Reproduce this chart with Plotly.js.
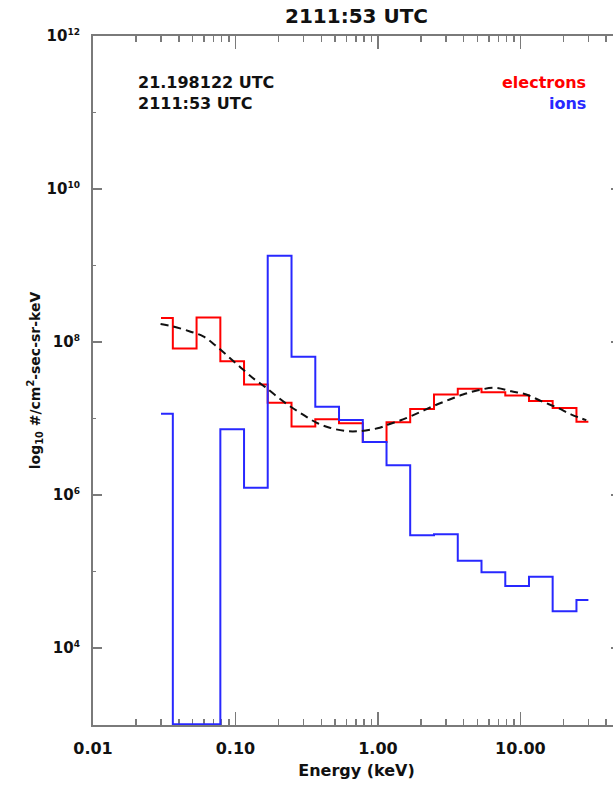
<!DOCTYPE html>
<html>
<head>
<meta charset="utf-8">
<script src="https://cdn.plot.ly/plotly-3.0.1.min.js"></script>
<style>
html, body { margin: 0; padding: 0; overflow: hidden; background: #fff; }
#chart { width: 640px; height: 791px; }
</style>
</head>
<body>
<div id="chart"></div>
<script>
// Energy channels (keV)
const energy = [0.030, 0.044, 0.0646, 0.0949, 0.139, 0.204, 0.300, 0.440, 0.646, 0.949,
                1.39, 2.04, 3.00, 4.40, 6.46, 9.49, 13.9, 20.4, 30.0];
// Electron differential flux
const electrons = [2.05e8, 8.2e7, 2.09e8, 5.6e7, 2.77e7, 1.6e7, 7.8e6, 9.7e6, 8.6e6, 4.9e6,
                   8.9e6, 1.33e7, 2.05e7, 2.43e7, 2.2e7, 1.99e7, 1.68e7, 1.37e7, 9.0e6];
// Ion differential flux (1e3 = at/below the bottom of the plot)
const ions = [1.15e7, 1e3, 1e3, 7.2e6, 1.24e6, 1.34e9, 6.4e7, 1.42e7, 9.5e6, 4.9e6,
              2.43e6, 2.97e5, 3.06e5, 1.37e5, 9.7e4, 6.4e4, 8.5e4, 3.0e4, 4.2e4];
// Fit curve (dashed)
const fitEnergy = [0.0298, 0.0366, 0.0479, 0.0594, 0.0737, 0.0913, 0.113, 0.137, 0.161, 0.194,
                   0.241, 0.298, 0.370, 0.459, 0.601, 0.745, 1.03, 1.18, 1.50, 1.96,
                   2.43, 3.10, 3.95, 5.04, 6.59, 8.63, 11.0, 14.0, 18.3, 22.8, 29.0];
const fitFlux = [1.71e8, 1.59e8, 1.37e8, 1.18e8, 8.73e7, 6.17e7, 4.34e7, 3.21e7, 2.58e7, 1.95e7,
                 1.44e7, 1.12e7, 8.77e6, 7.54e6, 6.81e6, 6.81e6, 7.54e6, 8.32e6, 9.68e6, 1.20e7,
                 1.44e7, 1.73e7, 2.05e7, 2.33e7, 2.51e7, 2.26e7, 2.05e7, 1.68e7, 1.37e7, 1.12e7, 9.48e6];

const xTickVals = [0.01, 0.1, 1, 10];
const xTickText = ['0.01', '0.10', '1.00', '10.00'];
const xMinorVals = [0.02,0.03,0.04,0.05,0.06,0.07,0.08,0.09,
                    0.2,0.3,0.4,0.5,0.6,0.7,0.8,0.9,
                    2,3,4,5,6,7,8,9, 20,30,40];
const yTickVals = [1e4, 1e6, 1e8, 1e10, 1e12];
const yTickExp = ['4', '6', '8', '10', '12'];
const yMinorVals = [1e5, 1e7, 1e9, 1e11];

const FONT = 'DejaVu Sans, Arial, sans-serif';
const AX = '#7a7a7a';

const traces = [
  { x: energy, y: electrons, mode: 'lines', line: { shape: 'hvh', color: 'rgb(255,0,0)', width: 2 }, name: 'electrons' },
  { x: energy, y: ions, mode: 'lines', line: { shape: 'hvh', color: 'rgb(40,40,255)', width: 2 }, name: 'ions' },
  { x: fitEnergy, y: fitFlux, mode: 'lines', line: { shape: 'spline', color: '#111', width: 2, dash: '8px,5px' }, name: 'fit' }
];

const layout = {
  width: 640, height: 791,
  margin: { l: 93, r: 20, t: 36, b: 66 },
  paper_bgcolor: '#fff', plot_bgcolor: '#fff',
  showlegend: false,
  font: { family: FONT, color: '#111', size: 15, weight: 'bold' },
  title: { text: '2111:53 UTC', font: { family: FONT, size: 20, weight: 'bold', color: '#111' },
           x: 0.5, xref: 'paper', y: 1 - 15.5 / 791, yref: 'container', yanchor: 'middle' },
  xaxis: {
    type: 'log', range: [-2, Math.log10(50)],
    showgrid: false, zeroline: false,
    showline: true, linecolor: AX, linewidth: 2, mirror: 'ticks',
    ticks: 'inside', ticklen: 13, tickwidth: 1.5, tickcolor: AX,
    tickmode: 'array', tickvals: xTickVals, ticktext: xTickText,
    tickfont: { family: FONT, size: 16, weight: 'bold', color: '#111' },
    ticklabelstandoff: 8,
    minor: { tickmode: 'array', tickvals: xMinorVals, ticks: 'inside', ticklen: 6, tickwidth: 1.5, tickcolor: AX, showgrid: false },
    title: { text: 'Energy (keV)', font: { family: FONT, size: 16, weight: 'bold', color: '#111' }, standoff: 8 },
    layer: 'below traces'
  },
  yaxis: {
    type: 'log', range: [2.99, 12],
    showgrid: false, zeroline: false,
    showline: true, linecolor: AX, linewidth: 2, mirror: 'ticks',
    ticks: 'inside', ticklen: 9, tickwidth: 1.5, tickcolor: AX,
    tickmode: 'array', tickvals: yTickVals,
    ticktext: yTickExp.map(e => '10<sup><span style="font-size:9px">' + e + '</span></sup>'),
    tickfont: { family: FONT, size: 15, weight: 'bold', color: '#111' },
    ticklabelstandoff: 8,
    minor: { tickmode: 'array', tickvals: yMinorVals, ticks: 'inside', ticklen: 3, tickwidth: 1.5, tickcolor: AX, showgrid: false },
    title: { text: 'log<sub>10</sub> #/cm<sup>2</sup>-sec-sr-keV', font: { family: FONT, size: 14, weight: 'bold', color: '#111' }, standoff: 3 },
    layer: 'below traces'
  },
  annotations: [
    { text: '21.198122 UTC', xref: 'paper', yref: 'paper', x: (136 - 93) / 527, y: (725 - 82.3) / 689,
      xanchor: 'left', yanchor: 'middle', showarrow: false, font: { family: FONT, size: 16, weight: 'bold', color: '#111' } },
    { text: '2111:53 UTC', xref: 'paper', yref: 'paper', x: (136 - 93) / 527, y: (725 - 103) / 689,
      xanchor: 'left', yanchor: 'middle', showarrow: false, font: { family: FONT, size: 16, weight: 'bold', color: '#111' } },
    { text: 'electrons', xref: 'paper', yref: 'paper', x: (588.3 - 93) / 527, y: (725 - 82.3) / 689,
      xanchor: 'right', yanchor: 'middle', showarrow: false, font: { family: FONT, size: 16, weight: 'bold', color: 'rgb(255,0,0)' } },
    { text: 'ions', xref: 'paper', yref: 'paper', x: (588.3 - 93) / 527, y: (725 - 103) / 689,
      xanchor: 'right', yanchor: 'middle', showarrow: false, font: { family: FONT, size: 16, weight: 'bold', color: 'rgb(40,40,255)' } }
  ]
};

Plotly.newPlot('chart', traces, layout, { displayModeBar: false, staticPlot: true });
</script>
</body>
</html>
